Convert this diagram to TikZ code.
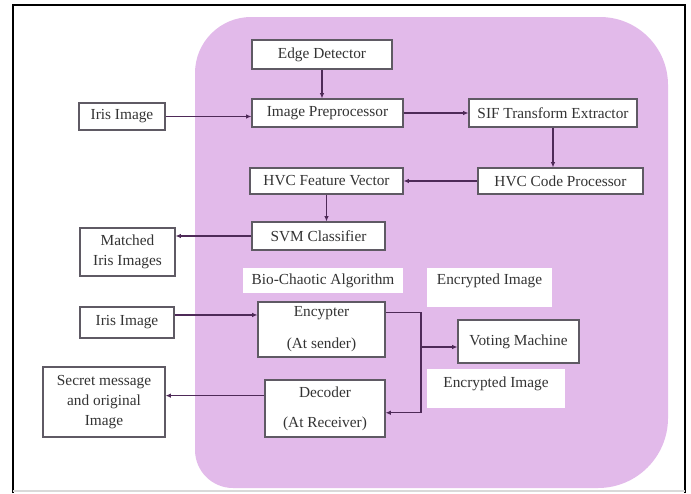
\documentclass[tikz,border=0pt]{standalone}
\usepackage{fontspec}
\setmainfont{Liberation Serif}
\usetikzlibrary{arrows.meta}
\definecolor{bgpink}{RGB}{226,186,234}
\definecolor{linkpurple}{RGB}{78,42,88}
\definecolor{boxgray}{RGB}{95,90,100}
\tikzset{
  box/.style={draw=boxgray, fill=white, line width=0.9pt, inner sep=0pt,
    align=center, text=black!80},
  lbl/.style={fill=white, inner sep=0pt, text=black!80},
  link/.style={draw=linkpurple, line width=0.9pt,
    -{Latex[length=4pt,width=3.5pt]}},
}
\begin{document}
\begin{tikzpicture}[font=\fontsize{11.5}{15}\selectfont]
    \def\x{0.75pt}
    \def\y{-0.75pt}
    \useasboundingbox (0*\x,0*\y) rectangle (691*\x,493*\y);
    % frame and background
    \draw[black, line width=2pt] (13*\x,493*\y) -- (13*\x,5*\y) -- (685*\x,5*\y) -- (685*\x,493*\y);
    \draw[black!15, line width=0.8pt] (13*\x,491*\y) -- (685*\x,491*\y);
    \fill[bgpink] (195*\x,450*\y) -- (195*\x,73*\y) arc[start angle=180,end angle=90,radius=56*\x]
      -- (600*\x,17*\y) arc[start angle=90,end angle=0,radius=68*\x]
      -- (668*\x,418*\y) arc[start angle=0,end angle=-90,radius=70*\x]
      -- (233*\x,488*\y) arc[start angle=270,end angle=180,radius=38*\x] -- cycle;
    % nodes
    \node[box, minimum width=140*\x, minimum height=29*\x] (A0_1) at (322*\x, 54.5*\y) {Edge Detector};
    \node[box, minimum width=86*\x, minimum height=27*\x] (A1_0) at (122*\x, 116.5*\y) {Iris Image};
    \node[box, minimum width=151*\x, minimum height=28*\x] (A1_1) at (327.5*\x, 113*\y) {Image Preprocessor};
    \node[box, minimum width=168*\x, minimum height=28*\x] (A1_2) at (553*\x, 113*\y) {SIF Transform Extractor};
    \node[box, minimum width=153*\x, minimum height=26*\x] (A2_1) at (326.5*\x, 181*\y) {HVC Feature Vector};
    \node[box, minimum width=165*\x, minimum height=26*\x] (A2_2) at (560.5*\x, 181*\y) {HVC Code Processor};
    \node[box, minimum width=95*\x, minimum height=48*\x] (A3_0) at (127.5*\x, 252*\y) {Matched\\Iris Images};
    \node[box, minimum width=133*\x, minimum height=28*\x] (A3_1) at (318.5*\x, 236*\y) {SVM Classifier};
    \node[lbl, minimum width=160*\x, minimum height=25*\x] (A4_1) at (323*\x, 280.5*\y) {Bio-Chaotic Algorithm};
    \node[lbl, anchor=north, minimum width=125*\x, text height=12pt, text depth=17.25pt] (A4_2) at (489.5*\x, 268*\y) {Encrypted Image};
    \node[box, minimum width=94*\x, minimum height=31*\x] (A5_0) at (127*\x, 322.5*\y) {Iris Image};
    \node[box, minimum width=127*\x, minimum height=55*\x] (A5_1) at (321.5*\x, 329.5*\y) {Encypter\\[9pt](At sender)};
    \node[box, minimum width=121*\x, minimum height=43*\x] (A5_2) at (518.5*\x, 341.5*\y) {Voting Machine};
    \node[lbl, anchor=north, minimum width=138*\x, text height=14pt, text depth=15.25pt] (A6_2) at (496*\x, 369*\y) {Encrypted Image};
    \node[box, minimum width=122*\x, minimum height=70*\x] (A6_0) at (104*\x, 402*\y) {Secret message\\and original\\Image};
    \node[box, minimum width=120*\x, minimum height=57*\x] (A6_1) at (325*\x, 408.5*\y) {Decoder\\[7.5pt](At Receiver)};
    \coordinate (split) at (421*\x, 347*\y);
    % connectors
    \draw[link] (A0_1) -- (A0_1 |- A1_1.north);
    \draw[link] (A1_0) -- (A1_0 -| A1_1.west);
    \draw[link] (A1_1) -- (A1_2);
    \draw[link] (A1_2) -- (A1_2 |- A2_2.north);
    \draw[link] (A2_2) -- (A2_1);
    \draw[link] (A2_1) -- (A2_1 |- A3_1.north);
    \draw[link] (A3_1) -- (A3_1 -| A3_0.east);
    \draw[link] (A5_0.9) -- (A5_0.9 -| A5_1.west);
    \draw[draw=linkpurple, line width=0.9pt] (A5_1.15) -| (split);
    \draw[link] (split) -- (split -| A5_2.west);
    \draw[link] (split) |- (A6_1.-4);
    \draw[link] (A6_1.168) -- (A6_1.168 -| A6_0.east);
\end{tikzpicture}
\end{document}
